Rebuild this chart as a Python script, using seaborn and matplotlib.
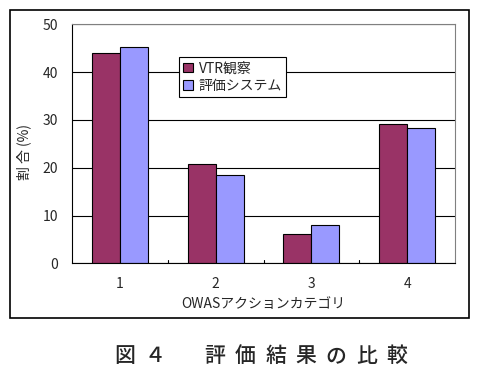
import pandas as pd
import seaborn as sns
import matplotlib.pyplot as plt
from matplotlib.patches import Rectangle

# data
categories = ["1", "2", "3", "4"]
vtr_values = [44.0, 20.7, 6.1, 29.1]
system_values = [45.2, 18.4, 8.0, 28.3]
series_names = ["VTR観察", "評価システム"]
colors = ["#993366", "#9999FF"]

df = pd.DataFrame({
    "category": categories * 2,
    "value": vtr_values + system_values,
    "series": [series_names[0]] * 4 + [series_names[1]] * 4,
})

sns.set_style("white")
plt.rcParams["font.family"] = ["Noto Sans CJK JP", "DejaVu Sans"]

fig = plt.figure(figsize=(4.8, 3.78), dpi=100)
ax = fig.add_axes([0.15, 0.3034, 0.798, 0.6323])

sns.barplot(data=df, x="category", y="value", hue="series",
            palette=colors, width=0.585, edgecolor="black", linewidth=0.8,
            saturation=1, ax=ax)

ax.set_ylim(0, 50)
ax.set_yticks([0, 10, 20, 30, 40, 50])
ax.yaxis.grid(True, color="black", linewidth=0.8)
ax.set_axisbelow(True)
ax.spines["top"].set_color("#808080")
ax.spines["right"].set_color("#808080")
ax.spines["left"].set_color("black")
ax.spines["bottom"].set_color("black")
ax.tick_params(axis="y", length=4, direction="out", color="black", labelsize=10, pad=6)
ax.tick_params(axis="x", length=0, labelsize=10, pad=10)
# category boundary ticks on x axis
for b in [0.5, 1.5, 2.5]:
    ax.plot([b, b], [0, 0.6], color="black", linewidth=0.8, clip_on=False)
ax.set_xlim(-0.5, 3.5)

ax.set_xlabel("OWASアクションカテゴリ", fontsize=10, labelpad=4)
ax.set_ylabel("")
fig.text(0.05, 0.597, "割 合 (%)", rotation=90, ha="center", va="center", fontsize=10)

leg = ax.legend(loc="upper left", bbox_to_anchor=(0.28, 0.862), fontsize=10,
                frameon=True, fancybox=False, edgecolor="black", framealpha=1,
                handlelength=0.7, handleheight=0.7, handletextpad=0.4,
                borderpad=0.3, labelspacing=0.25, borderaxespad=0)
leg.get_frame().set_linewidth(0.8)

# outer frame
fig.patches.append(Rectangle((10 / 480, 1 - 318 / 378), 459 / 480, 308 / 378,
                             transform=fig.transFigure, fill=False,
                             edgecolor="black", linewidth=1.2))

# caption
caption = "図４評価結果の比較"
cx = [125, 155, 215, 245.3, 275.7, 306, 336.3, 366.7, 397]
for ch, x in zip(caption, cx):
    fig.text(x / 480, 1 - 356 / 378, ch, ha="center", va="center",
             fontsize=15, fontweight="medium")

fig.savefig("out.png", dpi=100)
